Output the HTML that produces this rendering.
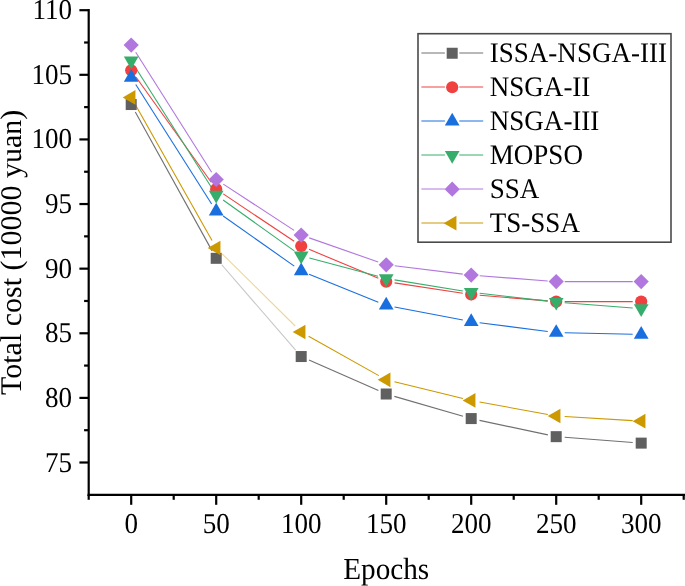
<!DOCTYPE html>
<html><head><meta charset="utf-8"><style>
html,body{margin:0;padding:0;background:#fff;}
svg{display:block;will-change:transform;text-rendering:geometricPrecision;font-family:"Liberation Serif",serif;}
</style></head><body>
<svg width="685" height="586" viewBox="0 0 685 586">
<line x1="88.7" y1="9.10" x2="88.7" y2="496.0" stroke="#000" stroke-width="2.2"/>
<line x1="87.60000000000001" y1="494.9" x2="690" y2="494.9" stroke="#000" stroke-width="2.2"/>
<line x1="79.4" y1="462.50" x2="88.7" y2="462.50" stroke="#000" stroke-width="2.2"/>
<text transform="translate(72.00,471.50) scale(0.94,1)" text-anchor="end" font-size="28.8">75</text>
<line x1="79.4" y1="397.89" x2="88.7" y2="397.89" stroke="#000" stroke-width="2.2"/>
<text transform="translate(72.00,406.89) scale(0.94,1)" text-anchor="end" font-size="28.8">80</text>
<line x1="79.4" y1="333.27" x2="88.7" y2="333.27" stroke="#000" stroke-width="2.2"/>
<text transform="translate(72.00,342.27) scale(0.94,1)" text-anchor="end" font-size="28.8">85</text>
<line x1="79.4" y1="268.66" x2="88.7" y2="268.66" stroke="#000" stroke-width="2.2"/>
<text transform="translate(72.00,277.66) scale(0.94,1)" text-anchor="end" font-size="28.8">90</text>
<line x1="79.4" y1="204.04" x2="88.7" y2="204.04" stroke="#000" stroke-width="2.2"/>
<text transform="translate(72.00,213.04) scale(0.94,1)" text-anchor="end" font-size="28.8">95</text>
<line x1="79.4" y1="139.43" x2="88.7" y2="139.43" stroke="#000" stroke-width="2.2"/>
<text transform="translate(72.00,148.43) scale(0.94,1)" text-anchor="end" font-size="28.8">100</text>
<line x1="79.4" y1="74.81" x2="88.7" y2="74.81" stroke="#000" stroke-width="2.2"/>
<text transform="translate(72.00,83.81) scale(0.94,1)" text-anchor="end" font-size="28.8">105</text>
<line x1="79.4" y1="10.20" x2="88.7" y2="10.20" stroke="#000" stroke-width="2.2"/>
<text transform="translate(72.00,19.20) scale(0.94,1)" text-anchor="end" font-size="28.8">110</text>
<line x1="84.10000000000001" y1="430.20" x2="88.7" y2="430.20" stroke="#000" stroke-width="2.2"/>
<line x1="84.10000000000001" y1="365.58" x2="88.7" y2="365.58" stroke="#000" stroke-width="2.2"/>
<line x1="84.10000000000001" y1="300.97" x2="88.7" y2="300.97" stroke="#000" stroke-width="2.2"/>
<line x1="84.10000000000001" y1="236.35" x2="88.7" y2="236.35" stroke="#000" stroke-width="2.2"/>
<line x1="84.10000000000001" y1="171.74" x2="88.7" y2="171.74" stroke="#000" stroke-width="2.2"/>
<line x1="84.10000000000001" y1="107.12" x2="88.7" y2="107.12" stroke="#000" stroke-width="2.2"/>
<line x1="84.10000000000001" y1="42.51" x2="88.7" y2="42.51" stroke="#000" stroke-width="2.2"/>
<line x1="131.20" y1="494.9" x2="131.20" y2="504.79999999999995" stroke="#000" stroke-width="2.2"/>
<text transform="translate(131.20,532.80) scale(0.94,1)" text-anchor="middle" font-size="28.8">0</text>
<line x1="216.20" y1="494.9" x2="216.20" y2="504.79999999999995" stroke="#000" stroke-width="2.2"/>
<text transform="translate(216.20,532.80) scale(0.94,1)" text-anchor="middle" font-size="28.8">50</text>
<line x1="301.20" y1="494.9" x2="301.20" y2="504.79999999999995" stroke="#000" stroke-width="2.2"/>
<text transform="translate(301.20,532.80) scale(0.94,1)" text-anchor="middle" font-size="28.8">100</text>
<line x1="386.20" y1="494.9" x2="386.20" y2="504.79999999999995" stroke="#000" stroke-width="2.2"/>
<text transform="translate(386.20,532.80) scale(0.94,1)" text-anchor="middle" font-size="28.8">150</text>
<line x1="471.20" y1="494.9" x2="471.20" y2="504.79999999999995" stroke="#000" stroke-width="2.2"/>
<text transform="translate(471.20,532.80) scale(0.94,1)" text-anchor="middle" font-size="28.8">200</text>
<line x1="556.20" y1="494.9" x2="556.20" y2="504.79999999999995" stroke="#000" stroke-width="2.2"/>
<text transform="translate(556.20,532.80) scale(0.94,1)" text-anchor="middle" font-size="28.8">250</text>
<line x1="641.20" y1="494.9" x2="641.20" y2="504.79999999999995" stroke="#000" stroke-width="2.2"/>
<text transform="translate(641.20,532.80) scale(0.94,1)" text-anchor="middle" font-size="28.8">300</text>
<line x1="88.70" y1="494.9" x2="88.70" y2="499.79999999999995" stroke="#000" stroke-width="2.2"/>
<line x1="173.70" y1="494.9" x2="173.70" y2="499.79999999999995" stroke="#000" stroke-width="2.2"/>
<line x1="258.70" y1="494.9" x2="258.70" y2="499.79999999999995" stroke="#000" stroke-width="2.2"/>
<line x1="343.70" y1="494.9" x2="343.70" y2="499.79999999999995" stroke="#000" stroke-width="2.2"/>
<line x1="428.70" y1="494.9" x2="428.70" y2="499.79999999999995" stroke="#000" stroke-width="2.2"/>
<line x1="513.70" y1="494.9" x2="513.70" y2="499.79999999999995" stroke="#000" stroke-width="2.2"/>
<line x1="598.70" y1="494.9" x2="598.70" y2="499.79999999999995" stroke="#000" stroke-width="2.2"/>
<line x1="683.70" y1="494.9" x2="683.70" y2="499.79999999999995" stroke="#000" stroke-width="2.2"/>
<text transform="translate(386.20,579.20) scale(0.955,1)" text-anchor="middle" font-size="30.6">Epochs</text>
<text transform="translate(20.7,252.3) rotate(-90)" text-anchor="middle" font-size="30">Total cost (10000 yuan)</text>
<line x1="135.31" y1="111.98" x2="212.09" y2="250.88" stroke="#707070" stroke-width="1.1" stroke-opacity="1"/><line x1="221.76" y1="264.75" x2="295.64" y2="350.11" stroke="#707070" stroke-width="1.1" stroke-opacity="0.4"/><line x1="308.98" y1="359.97" x2="378.42" y2="390.58" stroke="#707070" stroke-width="1.1" stroke-opacity="1"/><line x1="394.37" y1="396.37" x2="463.03" y2="416.21" stroke="#707070" stroke-width="1.1" stroke-opacity="1"/><line x1="479.51" y1="420.34" x2="547.89" y2="434.89" stroke="#707070" stroke-width="1.1" stroke-opacity="1"/><line x1="564.68" y1="437.30" x2="632.72" y2="442.48" stroke="#707070" stroke-width="1.1" stroke-opacity="1"/>
<line x1="136.14" y1="77.21" x2="211.26" y2="182.27" stroke="#F14040" stroke-width="1.1" stroke-opacity="1"/><line x1="223.26" y1="193.91" x2="294.14" y2="241.32" stroke="#F14040" stroke-width="1.1" stroke-opacity="1"/><line x1="309.04" y1="249.32" x2="378.36" y2="278.30" stroke="#F14040" stroke-width="1.1" stroke-opacity="1"/><line x1="394.60" y1="282.86" x2="462.80" y2="293.23" stroke="#F14040" stroke-width="1.1" stroke-opacity="1"/><line x1="479.67" y1="295.21" x2="547.73" y2="300.91" stroke="#F14040" stroke-width="1.1" stroke-opacity="1"/><line x1="564.70" y1="301.61" x2="632.70" y2="301.61" stroke="#F14040" stroke-width="1.1" stroke-opacity="1"/>
<line x1="135.76" y1="84.57" x2="211.64" y2="203.98" stroke="#1A6FDF" stroke-width="1.1" stroke-opacity="1"/><line x1="223.15" y1="216.05" x2="294.25" y2="266.09" stroke="#1A6FDF" stroke-width="1.1" stroke-opacity="1"/><line x1="309.08" y1="274.17" x2="378.32" y2="302.17" stroke="#1A6FDF" stroke-width="1.1" stroke-opacity="1"/><line x1="394.55" y1="306.96" x2="462.85" y2="320.05" stroke="#1A6FDF" stroke-width="1.1" stroke-opacity="1"/><line x1="479.63" y1="322.73" x2="547.77" y2="331.54" stroke="#1A6FDF" stroke-width="1.1" stroke-opacity="1"/><line x1="564.70" y1="332.81" x2="632.70" y2="334.26" stroke="#1A6FDF" stroke-width="1.1" stroke-opacity="1"/>
<line x1="135.75" y1="68.04" x2="211.65" y2="187.82" stroke="#37AD6B" stroke-width="1.1" stroke-opacity="1"/><line x1="223.11" y1="199.95" x2="294.29" y2="250.92" stroke="#37AD6B" stroke-width="1.1" stroke-opacity="1"/><line x1="309.41" y1="258.05" x2="377.99" y2="276.30" stroke="#37AD6B" stroke-width="1.1" stroke-opacity="1"/><line x1="394.59" y1="279.85" x2="462.81" y2="290.94" stroke="#37AD6B" stroke-width="1.1" stroke-opacity="1"/><line x1="479.64" y1="293.28" x2="547.76" y2="301.15" stroke="#37AD6B" stroke-width="1.1" stroke-opacity="1"/><line x1="564.68" y1="302.77" x2="632.72" y2="307.95" stroke="#37AD6B" stroke-width="1.1" stroke-opacity="1"/>
<line x1="135.74" y1="52.28" x2="211.66" y2="172.31" stroke="#B177DE" stroke-width="1.1" stroke-opacity="1"/><line x1="223.31" y1="184.14" x2="294.09" y2="230.41" stroke="#B177DE" stroke-width="1.1" stroke-opacity="1"/><line x1="309.22" y1="237.87" x2="378.18" y2="261.98" stroke="#B177DE" stroke-width="1.1" stroke-opacity="1"/><line x1="394.64" y1="265.81" x2="462.76" y2="274.10" stroke="#B177DE" stroke-width="1.1" stroke-opacity="1"/><line x1="479.68" y1="275.77" x2="547.72" y2="280.94" stroke="#B177DE" stroke-width="1.1" stroke-opacity="1"/><line x1="564.70" y1="281.58" x2="632.70" y2="281.58" stroke="#B177DE" stroke-width="1.1" stroke-opacity="1"/>
<line x1="135.38" y1="104.83" x2="212.02" y2="240.58" stroke="#CC9900" stroke-width="1.1" stroke-opacity="1"/><line x1="222.25" y1="253.96" x2="295.15" y2="326.01" stroke="#CC9900" stroke-width="1.1" stroke-opacity="0.4"/><line x1="308.61" y1="336.15" x2="378.79" y2="375.63" stroke="#CC9900" stroke-width="1.1" stroke-opacity="1"/><line x1="394.46" y1="381.81" x2="462.94" y2="398.47" stroke="#CC9900" stroke-width="1.1" stroke-opacity="1"/><line x1="479.56" y1="402.00" x2="547.84" y2="414.46" stroke="#CC9900" stroke-width="1.1" stroke-opacity="1"/><line x1="564.68" y1="416.50" x2="632.72" y2="420.64" stroke="#CC9900" stroke-width="1.1" stroke-opacity="1"/>
<rect x="125.70" y="99.04" width="11" height="11" fill="#606060"/>
<rect x="210.70" y="252.82" width="11" height="11" fill="#606060"/>
<rect x="295.70" y="351.04" width="11" height="11" fill="#606060"/>
<rect x="380.70" y="388.51" width="11" height="11" fill="#606060"/>
<rect x="465.70" y="413.07" width="11" height="11" fill="#606060"/>
<rect x="550.70" y="431.16" width="11" height="11" fill="#606060"/>
<rect x="635.70" y="437.62" width="11" height="11" fill="#606060"/>
<circle cx="131.20" cy="70.29" r="6.1" fill="#F14040"/>
<circle cx="216.20" cy="189.18" r="6.1" fill="#F14040"/>
<circle cx="301.20" cy="246.04" r="6.1" fill="#F14040"/>
<circle cx="386.20" cy="281.58" r="6.1" fill="#F14040"/>
<circle cx="471.20" cy="294.51" r="6.1" fill="#F14040"/>
<circle cx="556.20" cy="301.61" r="6.1" fill="#F14040"/>
<circle cx="641.20" cy="301.61" r="6.1" fill="#F14040"/>
<path d="M131.20,68.91L138.55,81.64L123.85,81.64Z" fill="#1A6FDF"/>
<path d="M216.20,202.67L223.55,215.40L208.85,215.40Z" fill="#1A6FDF"/>
<path d="M301.20,262.50L308.55,275.23L293.85,275.23Z" fill="#1A6FDF"/>
<path d="M386.20,296.87L393.55,309.60L378.85,309.60Z" fill="#1A6FDF"/>
<path d="M471.20,313.16L478.55,325.89L463.85,325.89Z" fill="#1A6FDF"/>
<path d="M556.20,324.14L563.55,336.87L548.85,336.87Z" fill="#1A6FDF"/>
<path d="M641.20,325.95L648.55,338.68L633.85,338.68Z" fill="#1A6FDF"/>
<path d="M131.20,69.35L138.55,56.61L123.85,56.61Z" fill="#37AD6B"/>
<path d="M216.20,203.49L223.55,190.76L208.85,190.76Z" fill="#37AD6B"/>
<path d="M301.20,264.35L308.55,251.62L293.85,251.62Z" fill="#37AD6B"/>
<path d="M386.20,286.97L393.55,274.24L378.85,274.24Z" fill="#37AD6B"/>
<path d="M471.20,300.80L478.55,288.07L463.85,288.07Z" fill="#37AD6B"/>
<path d="M556.20,310.62L563.55,297.89L548.85,297.89Z" fill="#37AD6B"/>
<path d="M641.20,317.08L648.55,304.35L633.85,304.35Z" fill="#37AD6B"/>
<path d="M131.20,37.49L138.80,45.09L131.20,52.69L123.60,45.09Z" fill="#B177DE"/>
<path d="M216.20,171.89L223.80,179.49L216.20,187.09L208.60,179.49Z" fill="#B177DE"/>
<path d="M301.20,227.46L308.80,235.06L301.20,242.66L293.60,235.06Z" fill="#B177DE"/>
<path d="M386.20,257.18L393.80,264.78L386.20,272.38L378.60,264.78Z" fill="#B177DE"/>
<path d="M471.20,267.52L478.80,275.12L471.20,282.72L463.60,275.12Z" fill="#B177DE"/>
<path d="M556.20,273.98L563.80,281.58L556.20,289.18L548.60,281.58Z" fill="#B177DE"/>
<path d="M641.20,273.98L648.80,281.58L641.20,289.18L633.60,281.58Z" fill="#B177DE"/>
<path d="M122.71,97.43L135.44,90.08L135.44,104.78Z" fill="#CC9900"/>
<path d="M207.71,247.98L220.44,240.63L220.44,255.33Z" fill="#CC9900"/>
<path d="M292.71,331.98L305.44,324.63L305.44,339.33Z" fill="#CC9900"/>
<path d="M377.71,379.80L390.44,372.45L390.44,387.15Z" fill="#CC9900"/>
<path d="M462.71,400.47L475.44,393.12L475.44,407.82Z" fill="#CC9900"/>
<path d="M547.71,415.98L560.44,408.63L560.44,423.33Z" fill="#CC9900"/>
<path d="M632.71,421.15L645.44,413.80L645.44,428.50Z" fill="#CC9900"/>
<rect x="418" y="33.7" width="253" height="208.5" fill="#fff" stroke="#4a4a4a" stroke-width="1.6"/>
<line x1="421.4" y1="53" x2="444.9" y2="53" stroke="#707070" stroke-width="1.0"/>
<line x1="459.3" y1="53" x2="483.2" y2="53" stroke="#707070" stroke-width="1.0"/>
<rect x="446.70" y="47.75" width="11" height="11" fill="#606060"/>
<text transform="translate(489.80,62.05) scale(0.955,1)" text-anchor="start" font-size="28.3">ISSA-NSGA-III</text>
<line x1="421.4" y1="87" x2="444.9" y2="87" stroke="#F14040" stroke-width="1.0"/>
<line x1="459.3" y1="87" x2="483.2" y2="87" stroke="#F14040" stroke-width="1.0"/>
<circle cx="452.20" cy="87.24" r="6.1" fill="#F14040"/>
<text transform="translate(489.80,96.04) scale(0.955,1)" text-anchor="start" font-size="28.3">NSGA-II</text>
<line x1="421.4" y1="121" x2="444.9" y2="121" stroke="#1A6FDF" stroke-width="1.0"/>
<line x1="459.3" y1="121" x2="483.2" y2="121" stroke="#1A6FDF" stroke-width="1.0"/>
<path d="M452.20,112.74L459.55,125.47L444.85,125.47Z" fill="#1A6FDF"/>
<text transform="translate(489.80,130.03) scale(0.955,1)" text-anchor="start" font-size="28.3">NSGA-III</text>
<line x1="421.4" y1="155" x2="444.9" y2="155" stroke="#37AD6B" stroke-width="1.0"/>
<line x1="459.3" y1="155" x2="483.2" y2="155" stroke="#37AD6B" stroke-width="1.0"/>
<path d="M452.20,163.71L459.55,150.98L444.85,150.98Z" fill="#37AD6B"/>
<text transform="translate(489.80,164.02) scale(0.955,1)" text-anchor="start" font-size="28.3">MOPSO</text>
<line x1="421.4" y1="189" x2="444.9" y2="189" stroke="#B177DE" stroke-width="1.0"/>
<line x1="459.3" y1="189" x2="483.2" y2="189" stroke="#B177DE" stroke-width="1.0"/>
<path d="M452.20,181.61L459.80,189.21L452.20,196.81L444.60,189.21Z" fill="#B177DE"/>
<text transform="translate(489.80,198.01) scale(0.955,1)" text-anchor="start" font-size="28.3">SSA</text>
<line x1="421.4" y1="223" x2="444.9" y2="223" stroke="#CC9900" stroke-width="1.0"/>
<line x1="459.3" y1="223" x2="483.2" y2="223" stroke="#CC9900" stroke-width="1.0"/>
<path d="M443.71,223.20L456.44,215.85L456.44,230.55Z" fill="#CC9900"/>
<text transform="translate(489.80,232.00) scale(0.955,1)" text-anchor="start" font-size="28.3">TS-SSA</text>
</svg>
</body></html>
